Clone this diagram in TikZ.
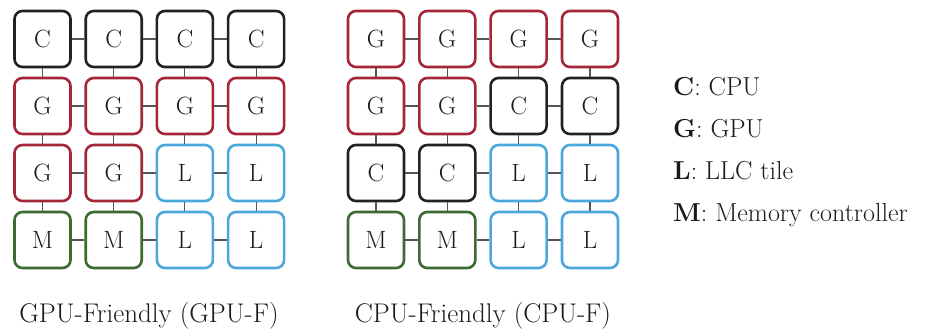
\documentclass[tikz,border=0pt]{standalone}
\definecolor{cpucol}{HTML}{222222}
\definecolor{gpucol}{HTML}{A52639}
\definecolor{llccol}{HTML}{4AA8DC}
\definecolor{mccol}{HTML}{3C6A30}
\definecolor{linkgray}{HTML}{555555}
\definecolor{inkcol}{HTML}{1A1A1A}
\begin{document}
\begin{tikzpicture}[x=1pt,y=-1pt,
  tile/.style={draw, rounded corners=8pt, line width=2.6pt,
    minimum width=56pt, minimum height=56pt, inner sep=0pt,
    font=\fontsize{25}{29}\selectfont, text=inkcol},
  tile C/.style={tile, draw=cpucol},
  tile G/.style={tile, draw=gpucol},
  tile L/.style={tile, draw=llccol},
  tile M/.style={tile, draw=mccol},
  link/.style={draw=linkgray, line width=1.1pt},
  caption/.style={anchor=base, inner sep=0pt, font=\fontsize{27}{31}\selectfont, text=inkcol},
  legend/.style={anchor=base west, inner sep=0pt, font=\fontsize{26}{30}\selectfont, text=inkcol}]
\useasboundingbox (0,0) rectangle (940,331);

% GPU-friendly mesh
\foreach \r/\y/\a/\b/\c/\d in {1/39/C/C/C/C, 2/106/G/G/G/G, 3/173/G/G/L/L, 4/240/M/M/L/L}{
  \node[tile \a] (L\r1) at (42.5,\y) {\a};
  \node[tile \b] (L\r2) at (113.7,\y) {\b};
  \node[tile \c] (L\r3) at (184.9,\y) {\c};
  \node[tile \d] (L\r4) at (256.1,\y) {\d};
}
% CPU-friendly mesh
\foreach \r/\y/\a/\b/\c/\d in {1/39/G/G/G/G, 2/106/G/G/C/C, 3/173/C/C/L/L, 4/240/M/M/L/L}{
  \node[tile \a] (R\r1) at (376,\y) {\a};
  \node[tile \b] (R\r2) at (447.3,\y) {\b};
  \node[tile \c] (R\r3) at (518.6,\y) {\c};
  \node[tile \d] (R\r4) at (590,\y) {\d};
}

% mesh links
\foreach \g in {L,R}{
  \foreach \r in {1,...,4}{
    \foreach \c [evaluate=\c as \n using int(\c+1)] in {1,2,3}{
      \draw[link] (\g\r\c) -- (\g\r\n);
      \draw[link] (\g\c\r) -- (\g\n\r);
    }
  }
}

% captions
\node[caption] (capL) at (149,322) {GPU-Friendly (GPU-F)};
\node[caption] (capR) at (483,322) {CPU-Friendly (CPU-F)};

% legend
\node[legend] (legC) at (673,96) {\textbf{C}: CPU};
\node[legend] (legG) at (673,138) {\textbf{G}: GPU};
\node[legend] (legL) at (673,180) {\textbf{L}: LLC tile};
\node[legend] (legM) at (673,222) {\textbf{M}: Memory controller};
\end{tikzpicture}
\end{document}
